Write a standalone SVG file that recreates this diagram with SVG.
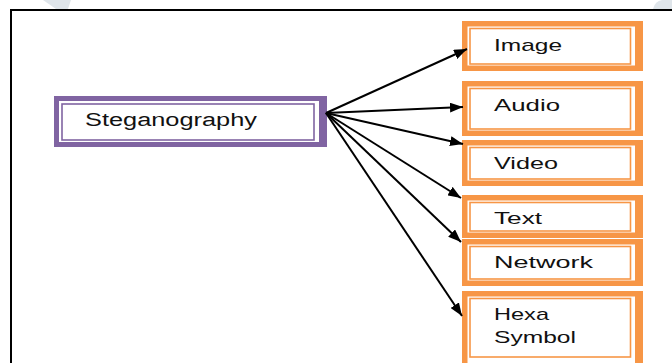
<svg xmlns="http://www.w3.org/2000/svg" width="672" height="363" viewBox="0 0 672 363">
<style>
.frame{stroke:#000;stroke-width:2;fill:none}
.wm{fill:#dfe5ea}
.othick{fill:#F79646;fill-rule:evenodd}
.othin{fill:none;stroke:#F79646;stroke-width:1.6}
.pthick{fill:#8064A2;fill-rule:evenodd}
.pthin{fill:none;stroke:#8064A2;stroke-width:1.6}
.lbl{font-family:"Liberation Sans",Arial,sans-serif;font-size:17px;fill:#111}
.conn line{stroke:#000;stroke-width:2;marker-end:url(#ah)}
</style>
<defs>
<marker id="ah" markerUnits="userSpaceOnUse" markerWidth="14" markerHeight="10" refX="13" refY="5" orient="auto">
<path d="M0,0 L13,5 L0,10 Z" fill="#000"/>
</marker>
</defs>
<rect width="672" height="363" fill="#fff"/>
<path class="wm" d="M43,0 H71 L68,9 H56 Z"/>
<path class="wm" d="M653,9 Q655,1 662,0 H672 V9 Z"/>
<path class="frame" d="M11,363 V10 H672"/>

<g id="steganography">
<path class="pthick" d="M54,96 H327 V147 H54 Z M59,101 V142 H319 V101 Z"/>
<rect class="pthin" x="62" y="104" width="252" height="36"/>
<text class="lbl" x="85" y="126" style="font-size:18px" textLength="172" lengthAdjust="spacingAndGlyphs">Steganography</text>
</g>

<g id="image">
<path class="othick" d="M462,21 H643 V71 H462 Z M467.5,26.5 V65.5 H635 V26.5 Z"/>
<rect class="othin" x="470" y="28.5" width="160.5" height="35.5"/>
<text class="lbl" x="494" y="50.5" textLength="68" lengthAdjust="spacingAndGlyphs">Image</text>
</g>

<g id="audio">
<path class="othick" d="M462,81 H643 V136 H462 Z M467.5,86.5 V130.5 H635 V86.5 Z"/>
<rect class="othin" x="470" y="88.5" width="160.5" height="40.5"/>
<text class="lbl" x="494" y="110.5" textLength="66" lengthAdjust="spacingAndGlyphs">Audio</text>
</g>

<g id="video">
<path class="othick" d="M462,140 H643 V186 H462 Z M467.5,145.5 V180.5 H635 V145.5 Z"/>
<rect class="othin" x="470" y="147.5" width="160.5" height="31.5"/>
<text class="lbl" x="494" y="169" textLength="64" lengthAdjust="spacingAndGlyphs">Video</text>
</g>

<g id="text">
<path class="othick" d="M462,195 H643 V238 H462 Z M467.5,200.5 V232.5 H635 V200.5 Z"/>
<rect class="othin" x="470" y="202.5" width="160.5" height="28.5"/>
<text class="lbl" x="494" y="224" textLength="48" lengthAdjust="spacingAndGlyphs">Text</text>
</g>

<g id="network">
<path class="othick" d="M462,239 H643 V286 H462 Z M467.5,244.5 V280.5 H635 V244.5 Z"/>
<rect class="othin" x="470" y="246.5" width="160.5" height="32.5"/>
<text class="lbl" x="494" y="268" textLength="99" lengthAdjust="spacingAndGlyphs">Network</text>
</g>

<g id="hexa-symbol">
<path class="othick" d="M462,291 H643 V372 H462 Z M467.5,296.5 V366 H635 V296.5 Z"/>
<rect class="othin" x="470" y="298.5" width="160.5" height="58.5"/>
<text class="lbl" x="494" y="320" textLength="55" lengthAdjust="spacingAndGlyphs">Hexa</text>
<text class="lbl" x="494" y="342.5" textLength="82" lengthAdjust="spacingAndGlyphs">Symbol</text>
</g>

<g id="connectors" class="conn">
<line x1="326" y1="113" x2="467" y2="49"/>
<line x1="326" y1="113" x2="463" y2="107"/>
<line x1="326" y1="113" x2="463" y2="144"/>
<line x1="326" y1="113" x2="461" y2="198"/>
<line x1="326" y1="113" x2="461" y2="242"/>
<line x1="326" y1="113" x2="462" y2="316"/>
</g>
</svg>
